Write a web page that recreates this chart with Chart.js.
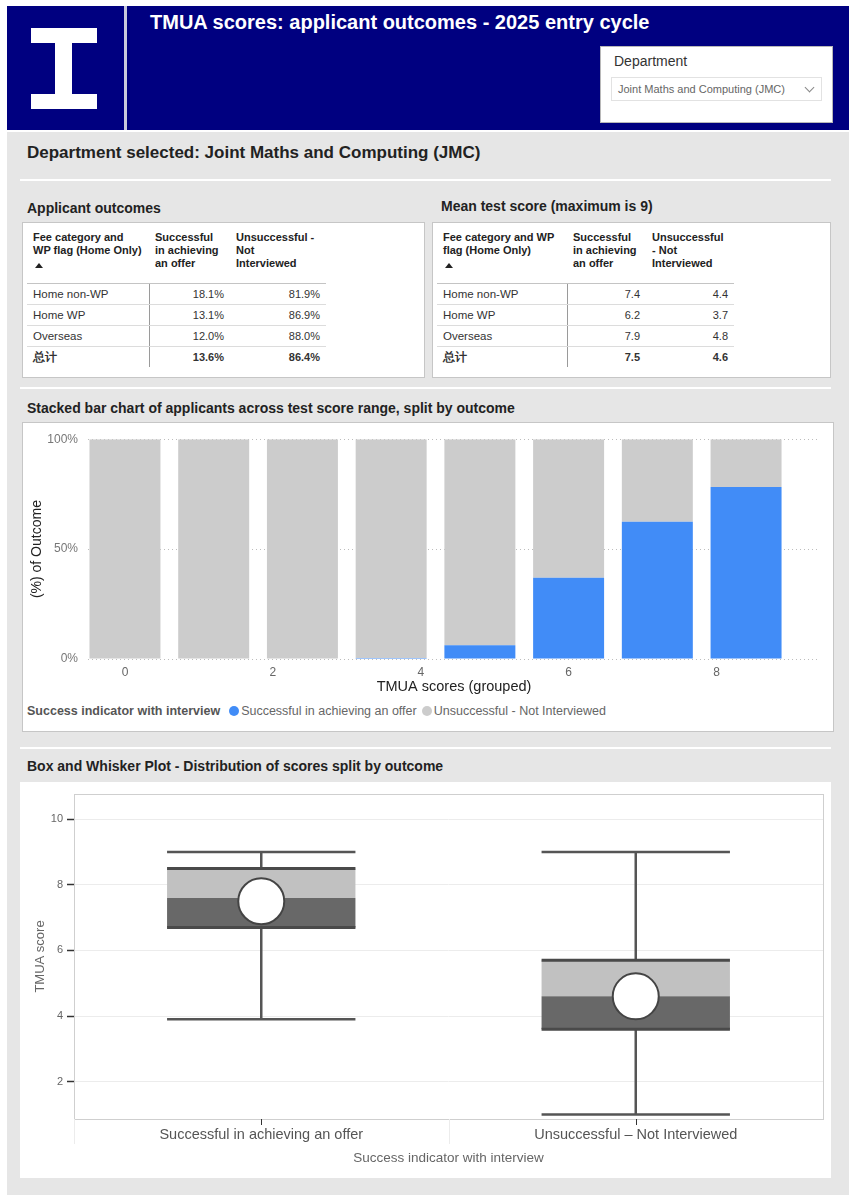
<!DOCTYPE html>
<html>
<head>
<meta charset="utf-8">
<title>TMUA scores: applicant outcomes</title>
<script src="https://cdn.jsdelivr.net/npm/chart.js@4.4.1/dist/chart.umd.min.js"></script>
<style>
  body { margin: 0; background: #fff; font-family: Arial, "Liberation Sans", sans-serif; }
  #page { position: relative; width: 856px; height: 1200px; overflow: hidden; }
  .abs { position: absolute; }
  #banner { left: 7px; top: 6px; width: 842px; height: 124px; background: #000080; }
  .logo { background: #fff; }
  #title { left: 150px; top: 11px; color: #fff; font-weight: bold; font-size: 20px; }
  #slicer { left: 600px; top: 46px; width: 231px; height: 75px; background: #fff; border: 1px solid #b8b8b8; }
  #slicer .lbl { position: absolute; left: 13px; top: 6px; font-size: 14px; color: #333; }
  #slicer .sel { position: absolute; left: 10px; top: 30px; border: 1px solid #e2e2e2; font-size: 11px; color: #666;
                 line-height: 22px; padding-left: 6px; box-sizing: border-box; width: 211px; height: 24px; }
  #slicer .chev { position: absolute; right: 8px; top: 6px; width: 6px; height: 6px; border-right: 1px solid #888;
                  border-bottom: 1px solid #888; transform: rotate(45deg); }
  #grey { left: 7px; top: 132px; width: 842px; height: 1063px; background: #e6e6e6; }
  .rule { left: 20px; width: 811px; height: 2px; background: #fff; }
  .h1 { font-weight: bold; font-size: 17px; color: #222; }
  .h2 { font-weight: bold; font-size: 14px; color: #222; }
  .box { background: #fff; border: 1px solid #c6c6c6; box-sizing: border-box; }
  table.t { position: absolute; border-collapse: collapse; font-size: 11px; color: #333; table-layout: fixed; }
  table.t th { font-weight: bold; text-align: left; vertical-align: top; line-height: 13px; padding: 8px 0 0 6px;
               height: 52px; border-bottom: 1px solid #c4c4c4; color: #222; }
  table.t td { height: 20px; line-height: 20px; padding: 0 6px; border-bottom: 1px solid #dcdcdc; }
  table.t td.num { text-align: right; }
  table.t td.c1 { border-right: 1px solid #9a9a9a; font-size: 11.5px; }
  table.t tr.total td { font-weight: bold; border-bottom: none; }
  .arrow { display: block; width: 0; height: 0; border-left: 4px solid transparent; border-right: 4px solid transparent;
           border-bottom: 5px solid #222; margin-top: 6px; margin-left: 2px; }
  #legend { left: 27px; top: 704px; font-size: 12.5px; color: #666; white-space: nowrap; }
  #legend b { color: #555; }
  #legend .dot { display: inline-block; width: 10px; height: 10px; border-radius: 50%; vertical-align: -1px; margin: 0 2px 0 9px; }
</style>
</head>
<body>
<div id="page">
  <div class="abs" id="banner"></div>
  <div class="abs logo" style="left:31px;top:28px;width:66px;height:15px"></div>
  <div class="abs logo" style="left:55px;top:42px;width:17px;height:54px"></div>
  <div class="abs logo" style="left:31px;top:94px;width:66px;height:15px"></div>
  <div class="abs" style="left:124px;top:6px;width:3px;height:124px;background:#c9c9dc"></div>
  <div class="abs" id="title">TMUA scores: applicant outcomes - 2025 entry cycle</div>
  <div class="abs" id="slicer">
    <div class="lbl">Department</div>
    <div class="sel">Joint Maths and Computing (JMC)<div class="chev"></div></div>
  </div>

  <div class="abs" id="grey"></div>
  <div class="abs h1" style="left:27px;top:143px">Department selected: Joint Maths and Computing (JMC)</div>
  <div class="abs rule" style="top:179px"></div>

  <div class="abs h2" style="left:27px;top:200px">Applicant outcomes</div>
  <div class="abs h2" style="left:441px;top:198px">Mean test score (maximum is 9)</div>
  <div class="abs box" style="left:22px;top:222px;width:403px;height:156px"></div>
  <div class="abs box" style="left:432px;top:222px;width:399px;height:156px"></div>
  <table class="t" id="tblOutcomes" style="left:27px;top:223px;width:299px"></table>
  <table class="t" id="tblMeans" style="left:437px;top:223px;width:297px"></table>

  <div class="abs rule" style="top:387px"></div>
  <div class="abs h2" style="left:27px;top:400px">Stacked bar chart of applicants across test score range, split by outcome</div>
  <div class="abs box" style="left:22px;top:422px;width:812px;height:310px"></div>
  <canvas class="abs" id="barChart" width="811" height="278" style="left:22px;top:422px"></canvas>
  <div class="abs" id="legend"></div>

  <div class="abs rule" style="top:747px"></div>
  <div class="abs h2" style="left:27px;top:758px">Box and Whisker Plot - Distribution of scores split by outcome</div>
  <div class="abs" style="left:20px;top:782px;width:811px;height:396px;background:#fff"></div>
  <canvas class="abs" id="boxChart" width="811" height="396" style="left:20px;top:782px"></canvas>
</div>

<script>
// table data
const feeCategories = ['Home non-WP', 'Home WP', 'Overseas'];
const totalLabel = '总计';
const offerPct = [18.1, 13.1, 12.0];
const notInterviewedPct = [81.9, 86.9, 88.0];
const totalPct = [13.6, 86.4];
const meanOffer = [7.4, 6.2, 7.9];
const meanNotInterviewed = [4.4, 3.7, 4.8];
const totalMean = [7.5, 4.6];

// stacked bar data (score bins)
const scoreBins = [0, 1.2, 2.4, 3.6, 4.8, 6.0, 7.2, 8.4];
const successShare = [0, 0, 0, 0.5, 6.2, 37.0, 62.5, 78.2];
const unsuccessShare = [100, 100, 100, 99.5, 93.8, 63.0, 37.5, 21.8];
const scoreTicks = [0, 2, 4, 6, 8];
const shareTicks = [0, 50, 100];

// box plot data
const outcomeLabels = ['Successful in achieving an offer', 'Unsuccessful – Not Interviewed'];
const boxMin = [3.9, 1.0];
const boxQ1 = [6.7, 3.6];
const boxMedian = [7.6, 4.6];
const boxQ3 = [8.5, 5.7];
const boxMax = [9.0, 9.0];
const boxMean = [7.5, 4.6];
const boxTicks = [2, 4, 6, 8, 10];

const BLUE = '#418CF7';
const GREY = '#CCCCCC';
const FONT = 'Arial, "Liberation Sans", sans-serif';

function buildTable(id, headers, colWidths, a, b, totals, fmt) {
  const t = document.getElementById(id);
  let html = '<colgroup>' + colWidths.map(w => `<col style="width:${w}px">`).join('') + '</colgroup>';
  html += '<tr>' + headers.map((h, i) => `<th>${h}${i === 0 ? '<span class="arrow"></span>' : ''}</th>`).join('') + '</tr>';
  feeCategories.forEach((c, i) => {
    html += `<tr><td class="c1">${c}</td><td class="num">${fmt(a[i])}</td><td class="num">${fmt(b[i])}</td></tr>`;
  });
  html += `<tr class="total"><td class="c1">${totalLabel}</td><td class="num">${fmt(totals[0])}</td><td class="num">${fmt(totals[1])}</td></tr>`;
  t.innerHTML = html;
}

buildTable('tblOutcomes',
  ['Fee category and<br>WP flag (Home Only)', 'Successful<br>in achieving<br>an offer', 'Unsuccessful -<br>Not<br>Interviewed'],
  [122, 81, 96], offerPct, notInterviewedPct, totalPct, v => v.toFixed(1) + '%');
buildTable('tblMeans',
  ['Fee category and WP<br>flag (Home Only)', 'Successful<br>in achieving<br>an offer', 'Unsuccessful<br>- Not<br>Interviewed'],
  [130, 79, 88], meanOffer, meanNotInterviewed, totalMean, v => v.toFixed(1));

document.getElementById('legend').innerHTML =
  '<b>Success indicator with interview</b>' +
  `<span class="dot" style="background:${BLUE}"></span>Successful in achieving an offer` +
  `<span class="dot" style="background:${GREY};margin-left:5px"></span>Unsuccessful - Not Interviewed`;

// stacked bar chart
new Chart(document.getElementById('barChart'), {
  type: 'bar',
  data: {
    datasets: [{
      label: 'Successful in achieving an offer',
      data: scoreBins.map((x, i) => ({ x: x, y: successShare[i] })),
      backgroundColor: BLUE
    }, {
      label: 'Unsuccessful - Not Interviewed',
      data: scoreBins.map((x, i) => ({ x: x, y: unsuccessShare[i] })),
      backgroundColor: GREY
    }]
  },
  options: {
    responsive: false,
    animation: false,
    barPercentage: 1,
    categoryPercentage: 0.8,
    layout: { autoPadding: false, padding: { top: 16, right: 13, left: 0, bottom: 0 } },
    plugins: { legend: { display: false }, tooltip: { enabled: false } },
    scales: {
      x: {
        type: 'linear', min: -0.5, max: 9.4, offset: false, stacked: true,
        grid: { display: false, drawTicks: false },
        border: { display: false },
        afterBuildTicks: s => { s.ticks = scoreTicks.map(v => ({ value: v })); },
        ticks: { color: '#666', font: { size: 12, family: FONT }, padding: 6 },
        title: { display: true, text: 'TMUA scores (grouped)', color: '#222', font: { size: 14.5, family: FONT }, padding: { top: 0, bottom: 4 } },
        afterFit: s => { s.height = 41; }
      },
      y: {
        min: 0, max: 100, stacked: true,
        afterBuildTicks: s => { s.ticks = shareTicks.map(v => ({ value: v })); },
        ticks: { callback: v => v + '%', color: '#777', font: { size: 12, family: FONT }, padding: 10 },
        grid: { color: '#bdbdbd', drawTicks: false },
        border: { display: false, dash: [1, 3] },
        title: { display: true, text: '(%) of Outcome', color: '#222', font: { size: 14, family: FONT }, padding: { top: 7 } },
        afterFit: s => { s.width = 66; }
      }
    }
  }
});

// whiskers, box edges, frame for the box plot
const boxDecor = {
  id: 'boxDecor',
  afterDatasetsDraw(chart) {
    const ctx = chart.ctx, x = chart.scales.x, y = chart.scales.y;
    const meta = chart.getDatasetMeta(1);
    ctx.save();
    boxMin.forEach((mn, i) => {
      const cx = x.getPixelForValue(i), hw = meta.data[i].width / 2;
      ctx.strokeStyle = '#555';
      ctx.lineWidth = 2.5;
      ctx.beginPath();
      ctx.moveTo(cx, y.getPixelForValue(boxMax[i])); ctx.lineTo(cx, y.getPixelForValue(boxQ3[i]));
      ctx.moveTo(cx, y.getPixelForValue(boxQ1[i])); ctx.lineTo(cx, y.getPixelForValue(mn));
      [boxMax[i], mn].forEach(v => { const py = y.getPixelForValue(v); ctx.moveTo(cx - hw, py); ctx.lineTo(cx + hw, py); });
      ctx.stroke();
      ctx.lineWidth = 3;
      ctx.strokeStyle = '#4a4a4a';
      ctx.beginPath();
      [boxQ3[i], boxQ1[i]].forEach(v => { const py = y.getPixelForValue(v); ctx.moveTo(cx - hw, py); ctx.lineTo(cx + hw, py); });
      ctx.stroke();
    });
    ctx.restore();
  },
  afterDraw(chart) {
    const ctx = chart.ctx, x = chart.scales.x, a = chart.chartArea;
    ctx.save();
    ctx.strokeStyle = '#cfcfcf';
    ctx.lineWidth = 1;
    ctx.strokeRect(Math.round(a.left) + 0.5, Math.round(a.top) + 0.5, Math.round(a.right - a.left), Math.round(a.bottom - a.top));
    const mid = (x.getPixelForValue(0) + x.getPixelForValue(1)) / 2;
    ctx.strokeStyle = '#ececec';
    ctx.beginPath();
    [a.left, mid].forEach(px => { ctx.moveTo(Math.round(px) + 0.5, a.bottom); ctx.lineTo(Math.round(px) + 0.5, a.bottom + 25); });
    ctx.stroke();
    ctx.strokeStyle = '#333';
    ctx.beginPath();
    outcomeLabels.forEach((l, i) => { const px = Math.round(x.getPixelForValue(i)) + 0.5; ctx.moveTo(px, a.bottom); ctx.lineTo(px, a.bottom + 6); });
    ctx.stroke();
    ctx.restore();
  }
};

new Chart(document.getElementById('boxChart'), {
  type: 'bar',
  data: {
    labels: outcomeLabels,
    datasets: [{
      type: 'line', label: 'Mean', data: boxMean, showLine: false, order: 0,
      pointRadius: 23, pointHoverRadius: 23, pointBackgroundColor: '#fff', pointBorderColor: '#444', pointBorderWidth: 2
    }, {
      label: 'Q1 to median', data: boxQ1.map((q, i) => [q, boxMedian[i]]), order: 2,
      backgroundColor: '#686868', grouped: false, barPercentage: 0.503, categoryPercentage: 1
    }, {
      label: 'Median to Q3', data: boxMedian.map((m, i) => [m, boxQ3[i]]), order: 2,
      backgroundColor: '#c1c1c1', grouped: false, barPercentage: 0.503, categoryPercentage: 1
    }]
  },
  options: {
    responsive: false,
    animation: false,
    layout: { autoPadding: false, padding: { top: 12, right: 8, left: 0, bottom: 0 } },
    plugins: { legend: { display: false }, tooltip: { enabled: false } },
    scales: {
      x: {
        grid: { display: false, drawTicks: false },
        border: { display: false },
        ticks: { color: '#555', font: { size: 14.5, family: FONT }, padding: 7, maxRotation: 0 },
        title: { display: true, text: 'Success indicator with interview', color: '#666', font: { size: 13.5, family: FONT }, padding: { top: 0, bottom: 12 } },
        afterFit: s => { s.height = 59; }
      },
      y: {
        min: 0.86, max: 10.77,
        afterBuildTicks: s => { s.ticks = boxTicks.map(v => ({ value: v })); },
        ticks: { color: '#666', font: { size: 11, family: FONT }, padding: 4 },
        grid: { color: '#ececec', tickColor: '#333', tickLength: 7, tickWidth: 1.5 },
        border: { display: false },
        title: { display: true, text: 'TMUA score', color: '#666', font: { size: 13, family: FONT }, padding: { top: 13 } },
        afterFit: s => { s.width = 54; }
      }
    }
  },
  plugins: [boxDecor]
});
</script>
</body>
</html>
